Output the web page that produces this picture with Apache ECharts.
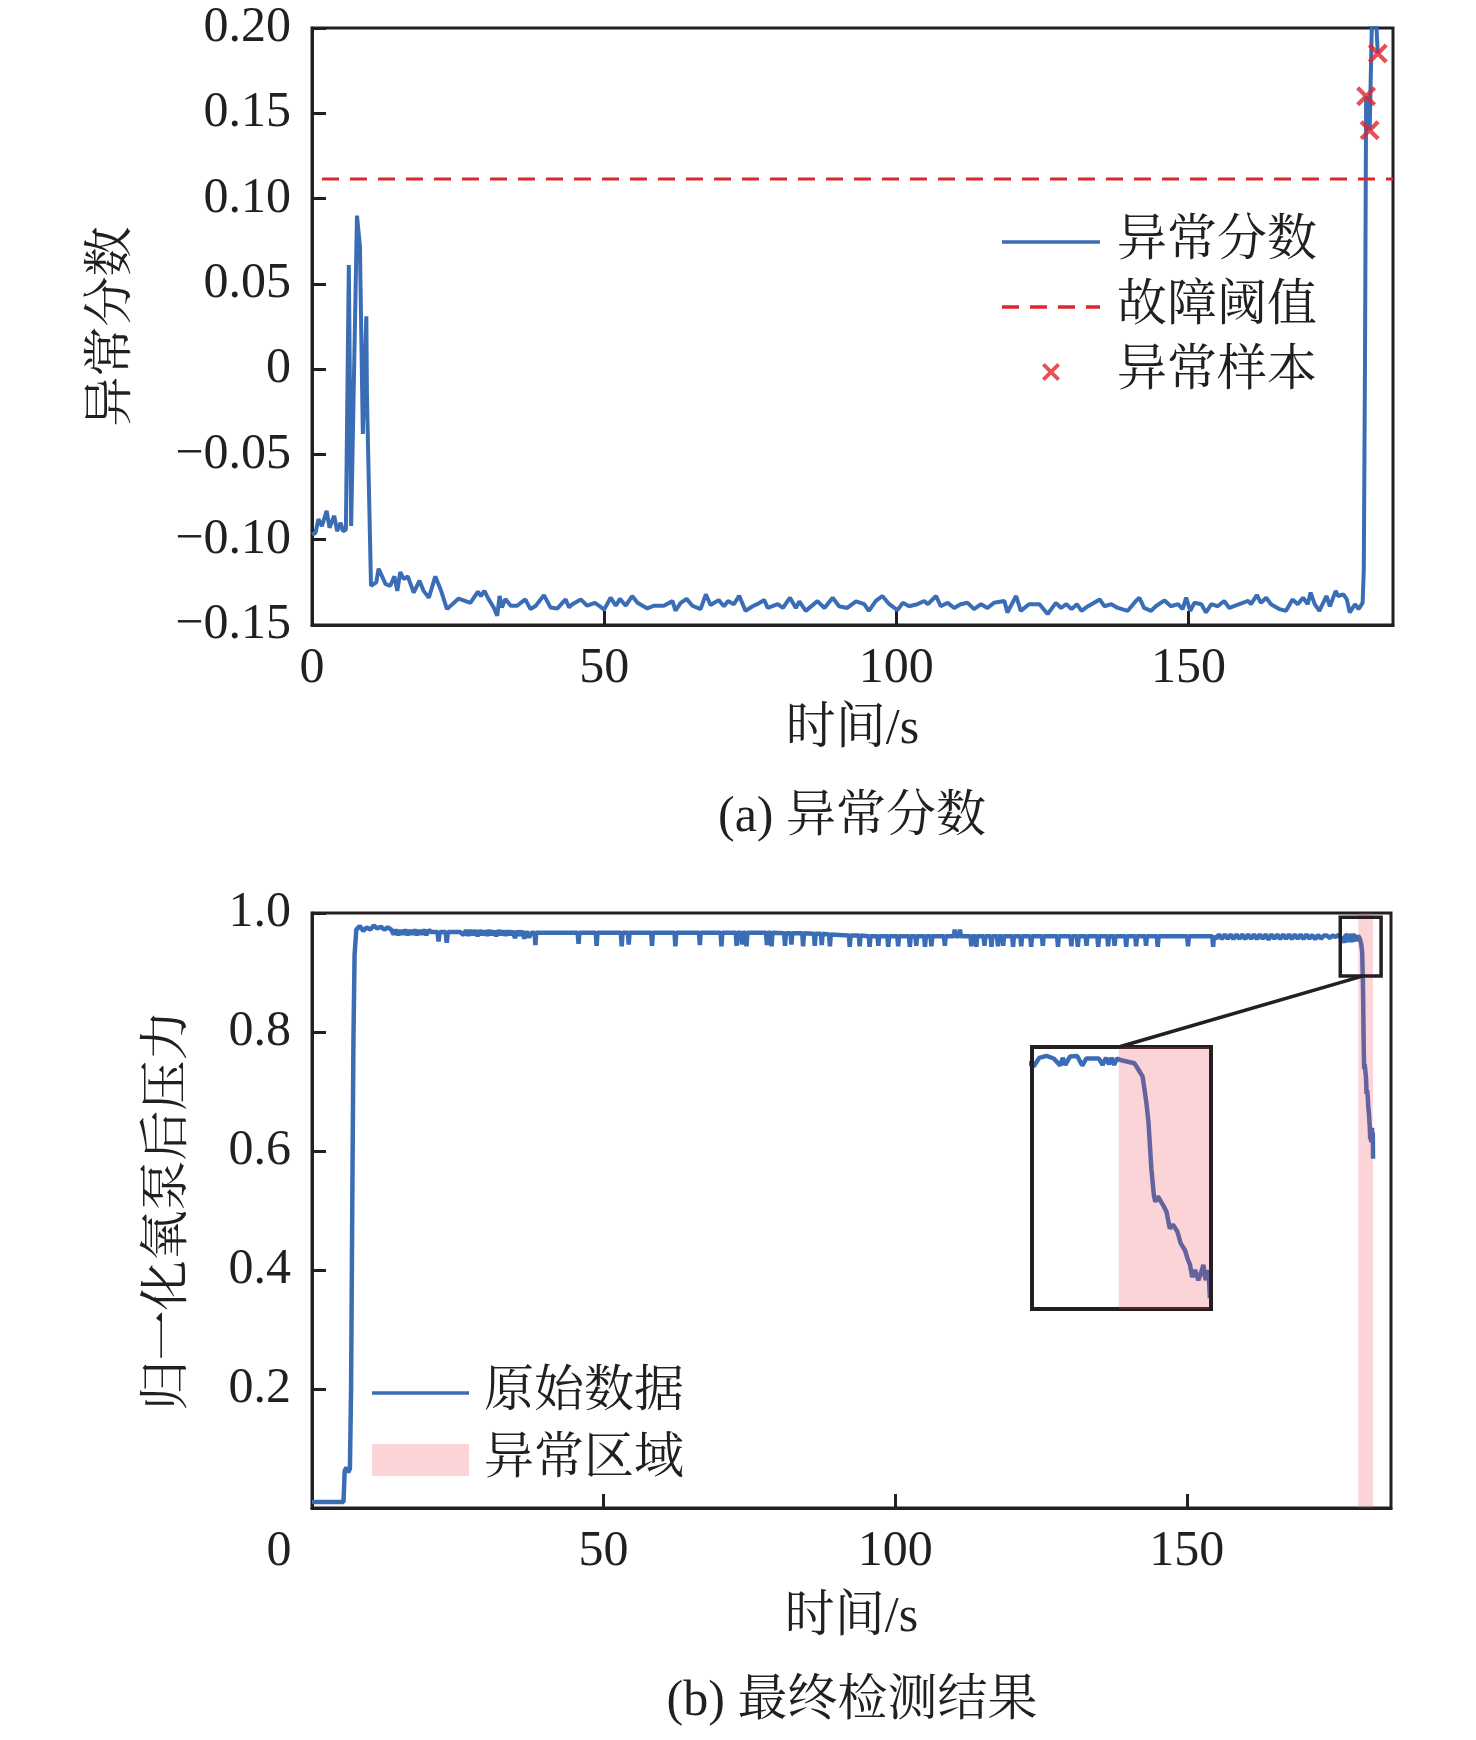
<!DOCTYPE html>
<html>
<head>
<meta charset="utf-8">
<script src="https://cdn.jsdelivr.net/npm/echarts@6.0.0/dist/echarts.min.js"></script>
<style>
  html, body { margin: 0; padding: 0; background: #fff; }
  #main { width: 1476px; height: 1740px; }
</style>
</head>
<body>
<div id="main"></div>
<script>
// (a) 异常分数：时间/s, 分数
var scoreData = [
  [0, -0.097], [0.6, -0.096], [1.1, -0.088], [1.7, -0.092], [2.5, -0.083], [3.0, -0.093], [3.8, -0.086],
  [4.3, -0.095], [4.9, -0.090], [5.3, -0.095], [5.8, -0.094], [6.3, 0.061], [6.7, -0.092], [7.7, 0.090],
  [8.2, 0.072], [8.7, -0.038], [9.3, 0.031], [9.4, -0.015], [10.1, -0.127], [11.0, -0.125], [11.4, -0.117],
  [12.6, -0.126], [13.4, -0.127], [14.1, -0.1215], [14.6, -0.130], [15.1, -0.119], [15.7, -0.123], [16.4, -0.1215],
  [17.4, -0.131], [18.4, -0.124], [19.1, -0.130], [20.0, -0.134], [21.1, -0.1215], [22.0, -0.129], [23.1, -0.1407],
  [24.3, -0.137], [25.1, -0.1345], [26.3, -0.136], [27.1, -0.137], [28.4, -0.1305], [28.9, -0.133], [29.5, -0.130],
  [30.2, -0.1347], [31.1, -0.1397], [31.7, -0.1446], [32.1, -0.133], [32.5, -0.1397], [33.1, -0.1347], [34.0, -0.1387],
  [35.1, -0.1387], [36.5, -0.135], [37.4, -0.1407], [38.3, -0.1387], [39.7, -0.1325], [40.8, -0.1397], [42.0, -0.1403],
  [43.4, -0.135], [44.0, -0.1397], [44.5, -0.138], [46.0, -0.135], [47.1, -0.1387], [48.4, -0.137], [49.1, -0.1387],
  [50.0, -0.141], [51.1, -0.134], [52.0, -0.1387], [52.7, -0.1347], [53.7, -0.1387], [54.8, -0.133], [55.7, -0.137],
  [57.4, -0.1403], [58.5, -0.1387], [60.2, -0.1387], [61.7, -0.136], [62.2, -0.1416], [63.1, -0.137], [64.1, -0.1347],
  [65.1, -0.1387], [66.5, -0.1407], [67.4, -0.132], [68.2, -0.1383], [69.6, -0.1354], [70.5, -0.139], [71.2, -0.136],
  [72.2, -0.1378], [73.1, -0.1329], [74.2, -0.1417], [75.4, -0.139], [76.2, -0.1378], [77.4, -0.1354], [78.0, -0.140],
  [79.7, -0.1378], [80.6, -0.140], [81.8, -0.134], [82.8, -0.140], [83.4, -0.1362], [84.5, -0.1417], [86.5, -0.136],
  [87.7, -0.140], [89.1, -0.134], [90.2, -0.139], [91.6, -0.140], [93.1, -0.1362], [94.5, -0.1378], [95.3, -0.1417],
  [96.5, -0.1359], [97.6, -0.133], [98.8, -0.1378], [100.2, -0.1413], [101.1, -0.137], [102.2, -0.139], [103.6, -0.1378],
  [104.8, -0.1359], [105.4, -0.1378], [106.8, -0.133], [107.6, -0.139], [108.8, -0.137], [109.9, -0.140], [111.0, -0.1378],
  [112.2, -0.137], [113.3, -0.1407], [114.5, -0.1378], [115.6, -0.140], [116.7, -0.137], [118.5, -0.1359], [119.0, -0.1427],
  [120.5, -0.133], [121.3, -0.1417], [122.7, -0.1378], [124.5, -0.1378], [125.9, -0.1436], [127.3, -0.137], [128.2, -0.140],
  [129.1, -0.1378], [130.0, -0.1407], [130.9, -0.1378], [131.7, -0.1417], [132.8, -0.139], [133.4, -0.1378], [134.8, -0.135],
  [135.6, -0.139], [136.8, -0.1378], [137.9, -0.140], [139.6, -0.1417], [141.0, -0.1359], [141.6, -0.134], [142.4, -0.140],
  [143.6, -0.1417], [144.4, -0.139], [145.9, -0.1356], [147.0, -0.139], [148.2, -0.1378], [149.0, -0.1407], [149.6, -0.134],
  [150.3, -0.1417], [151.0, -0.137], [152.2, -0.1378], [153.0, -0.1427], [153.9, -0.1378], [155.0, -0.139], [156.1, -0.1359],
  [157.0, -0.140], [158.7, -0.1378], [160.2, -0.1359], [160.7, -0.1378], [161.7, -0.1324], [162.4, -0.137], [163.3, -0.134],
  [164.1, -0.1378], [165.6, -0.1407], [166.7, -0.1417], [167.8, -0.135], [168.7, -0.1378], [169.6, -0.134], [170.4, -0.1378],
  [170.9, -0.131], [171.6, -0.1378], [172.4, -0.1417], [173.6, -0.133], [174.2, -0.139], [175.2, -0.130], [175.6, -0.133],
  [176.5, -0.132], [177.1, -0.135], [177.6, -0.1427], [178.5, -0.1378], [179.1, -0.1407], [179.8, -0.137], [180.0, -0.118],
  [180.2, 0.0], [180.4, 0.160], [181.0, 0.140], [181.4, 0.205], [181.8, 0.212], [182.1, 0.205], [182.4, 0.185]
];
var anomalySamples = [[180.4, 0.160], [181.0, 0.140], [182.4, 0.185]];
var THRESHOLD = 0.1115;
var scoreTicks = { min: -0.15, max: 0.20, step: 0.05 };

// (b) 最终检测结果：时间/s, 归一化氧泵后压力
var pressureData = [
  [0, 0.010], [5.4, 0.010], [5.6, 0.062], [5.9, 0.068], [6.2, 0.060], [6.5, 0.066], [6.7, 0.20], [6.9, 0.50],
  [7.1, 0.78], [7.3, 0.93], [7.6, 0.972], [8.2, 0.978], [8.8, 0.970], [9.4, 0.976], [10.0, 0.972], [10.6, 0.979],
  [11.2, 0.974], [11.8, 0.977], [12.4, 0.972], [13.0, 0.976], [13.6, 0.972],
  [14.0, 0.964], [14.4, 0.972], [14.8, 0.963], [15.2, 0.971], [15.6, 0.964], [16.0, 0.972], [16.4, 0.963], [16.8, 0.971],
  [17.2, 0.964], [17.6, 0.972], [18.0, 0.963], [18.4, 0.971], [18.8, 0.964], [19.2, 0.972], [19.6, 0.963], [20.0, 0.971],
  [20.5, 0.968], [21.5, 0.968], [21.7, 0.952], [21.9, 0.968], [22.9, 0.968], [23.1, 0.950], [23.3, 0.968], [25.4, 0.968],
  [26.0, 0.963], [26.4, 0.971], [26.8, 0.962], [27.2, 0.971], [27.6, 0.963], [28.0, 0.971], [28.4, 0.961], [28.8, 0.971],
  [29.2, 0.963], [29.6, 0.970], [30.0, 0.962], [30.4, 0.971], [30.8, 0.963], [31.2, 0.970], [31.6, 0.961], [32.0, 0.971],
  [32.4, 0.963], [32.8, 0.970], [33.2, 0.962], [33.6, 0.970], [34.0, 0.963], [34.4, 0.970], [34.8, 0.958], [35.2, 0.970],
  [35.6, 0.962], [36.0, 0.970], [36.4, 0.957], [36.8, 0.969], [37.2, 0.959], [37.6, 0.967],
  [38.15, 0.967], [38.3, 0.946], [38.45, 0.967], [45.55, 0.967], [45.7, 0.948], [45.85, 0.967],
  [48.65, 0.967], [48.8, 0.945], [48.95, 0.967], [52.95, 0.967], [53.1, 0.944], [53.25, 0.967],
  [54.15, 0.967], [54.3, 0.947], [54.45, 0.967], [58.15, 0.967], [58.3, 0.945], [58.45, 0.967],
  [62.15, 0.967], [62.3, 0.944], [62.45, 0.967], [66.35, 0.967], [66.5, 0.946], [66.65, 0.967],
  [70.05, 0.967], [70.2, 0.944], [70.35, 0.967], [72.65, 0.967], [72.8, 0.945], [72.95, 0.967],
  [73.55, 0.967], [73.7, 0.947], [73.85, 0.967], [74.35, 0.967], [74.5, 0.944], [74.65, 0.967],
  [77.85, 0.967], [78.0, 0.946], [78.15, 0.967], [78.65, 0.967], [78.8, 0.944], [78.95, 0.967],
  [80.95, 0.966], [81.1, 0.945], [81.25, 0.966], [82.05, 0.966], [82.2, 0.947], [82.35, 0.966],
  [84.05, 0.966], [84.2, 0.944], [84.35, 0.966], [86.05, 0.965], [86.2, 0.945], [86.35, 0.965],
  [87.25, 0.965], [87.4, 0.946], [87.55, 0.965], [88.65, 0.964], [88.8, 0.944], [88.95, 0.964],
  [92.05, 0.962], [92.2, 0.943], [92.35, 0.962], [93.75, 0.962], [93.9, 0.944], [94.05, 0.962],
  [95.45, 0.961], [95.6, 0.943], [95.75, 0.961], [96.95, 0.961], [97.1, 0.945], [97.25, 0.961],
  [98.65, 0.961], [98.8, 0.943], [98.95, 0.961], [100.35, 0.961], [100.5, 0.944], [100.65, 0.961],
  [102.35, 0.961], [102.5, 0.943], [102.65, 0.961], [103.45, 0.961], [103.6, 0.945], [103.75, 0.961],
  [104.95, 0.961], [105.1, 0.943], [105.25, 0.961], [106.05, 0.961], [106.2, 0.944], [106.35, 0.961],
  [108.35, 0.961], [108.5, 0.945], [108.65, 0.961], [110.05, 0.961], [110.2, 0.972], [110.35, 0.961],
  [110.95, 0.961], [111.1, 0.972], [111.25, 0.961], [112.9, 0.961], [113.05, 0.944], [113.2, 0.961],
  [113.75, 0.961], [113.9, 0.943], [114.05, 0.961], [115.15, 0.961], [115.3, 0.945], [115.45, 0.961],
  [116.35, 0.961], [116.5, 0.943], [116.65, 0.961], [117.45, 0.961], [117.6, 0.944], [117.75, 0.961],
  [118.35, 0.961], [118.5, 0.945], [118.65, 0.961], [120.05, 0.961], [120.2, 0.943], [120.35, 0.961],
  [121.45, 0.961], [121.6, 0.944], [121.75, 0.961], [123.15, 0.961], [123.3, 0.943], [123.45, 0.961],
  [125.15, 0.961], [125.3, 0.945], [125.45, 0.961], [127.75, 0.961], [127.9, 0.943], [128.05, 0.961],
  [130.05, 0.961], [130.2, 0.944], [130.35, 0.961], [131.15, 0.961], [131.3, 0.943], [131.45, 0.961],
  [132.65, 0.961], [132.8, 0.945], [132.95, 0.961], [134.65, 0.961], [134.8, 0.943], [134.95, 0.961],
  [136.35, 0.961], [136.5, 0.944], [136.65, 0.961], [137.45, 0.961], [137.6, 0.945], [137.75, 0.961],
  [139.45, 0.961], [139.6, 0.943], [139.75, 0.961], [141.15, 0.961], [141.3, 0.944], [141.45, 0.961],
  [142.85, 0.961], [143.0, 0.945], [143.15, 0.961], [144.85, 0.961], [145.0, 0.943], [145.15, 0.961],
  [150.05, 0.961], [150.2, 0.944], [150.35, 0.961], [154.35, 0.961], [154.5, 0.943], [154.65, 0.961],
  [155.0, 0.957], [155.5, 0.964], [156.0, 0.956], [156.5, 0.964], [157.0, 0.957], [157.5, 0.964], [158.0, 0.956],
  [158.5, 0.964], [159.0, 0.957], [159.5, 0.964], [160.0, 0.956], [160.5, 0.964], [161.0, 0.957], [161.5, 0.964],
  [162.0, 0.956], [162.5, 0.964], [163.0, 0.957], [163.5, 0.964], [164.0, 0.955], [164.5, 0.964], [165.0, 0.957],
  [165.5, 0.964], [166.0, 0.956], [166.5, 0.964], [167.0, 0.957], [167.5, 0.964], [168.0, 0.956], [168.5, 0.964],
  [169.0, 0.957], [169.5, 0.964], [170.0, 0.956], [170.5, 0.964], [171.0, 0.957], [171.5, 0.963], [172.0, 0.956],
  [172.5, 0.963], [173.0, 0.957], [173.5, 0.962], [174.0, 0.962], [174.5, 0.958], [175.0, 0.962], [175.5, 0.960],
  [176.0, 0.963], [176.5, 0.958], [176.9, 0.955], [177.05, 0.950], [177.2, 0.963], [177.4, 0.966], [177.6, 0.962],
  [177.78, 0.951], [177.85, 0.963], [177.92, 0.952], [178.05, 0.965], [178.25, 0.966], [178.39, 0.951], [178.5, 0.962],
  [178.7, 0.962], [178.85, 0.962], [178.95, 0.952], [179.05, 0.963], [179.13, 0.953], [179.2, 0.963], [179.27, 0.952],
  [179.35, 0.962], [179.44, 0.9597], [179.65, 0.957], [179.83, 0.9545], [179.92, 0.9467], [180.06, 0.9335],
  [180.16, 0.894], [180.22, 0.863], [180.30, 0.790], [180.37, 0.748], [180.41, 0.738], [180.48, 0.746], [180.62, 0.733],
  [180.72, 0.722], [180.81, 0.696], [180.90, 0.702], [181.02, 0.691], [181.11, 0.673], [181.23, 0.662], [181.30, 0.649],
  [181.37, 0.639], [181.43, 0.620], [181.51, 0.631], [181.60, 0.615], [181.67, 0.626], [181.74, 0.639], [181.80, 0.615],
  [181.88, 0.631], [181.92, 0.587]
];
var anomalyRange = [179.4, 181.9];
var zoomBoxX = [176.3, 183.3];
var zoomBoxY = [0.894, 0.993];
var insetX = [177, 181.95];
var insetY = [0.57, 0.98];
var timeTicks = { min: 0, max: 185, step: 50 };

var BLUE = '#3a6db5';
var RED = '#e0262d';
var PINK = 'rgba(236,70,85,0.23)';
var INK = '#231f20';
var FONT = "'Liberation Serif', 'Noto Serif CJK SC', 'Noto Sans CJK SC', serif";
var CROSS = 'path://M3,0L10,7L17,0L20,3L13,10L20,17L17,20L10,13L3,20L0,17L7,10L0,3Z';
// 图例里的实线和虚线
var ICON_SOLID = 'path://M0,0H98V3.5H0Z';
var ICON_DASH = 'path://M0,0H17V3.5H0Z M28,0H45V3.5H28Z M56,0H73V3.5H56Z M84,0H98V3.5H84Z';

function fmtScore(v) {
  if (Math.abs(v) < 1e-9) return '0';
  return v.toFixed(2).replace('-', '\u2212');
}

function axisBase() {
  return {
    axisLine: { show: true, onZero: false, lineStyle: { color: INK, width: 3 } },
    axisTick: { show: true, inside: true, length: 14, lineStyle: { color: INK, width: 3 } },
    splitLine: { show: false },
    axisLabel: { color: INK, fontSize: 50, fontFamily: FONT },
    nameTextStyle: { color: INK, fontSize: 50, fontFamily: FONT }
  };
}

var xa = axisBase();
xa = Object.assign(xa, {
  type: 'value', gridIndex: 0, min: timeTicks.min, max: timeTicks.max, interval: timeTicks.step,
  name: '时间/s', nameLocation: 'middle', nameGap: 80
});
xa.axisLabel = Object.assign({}, xa.axisLabel, { margin: 19, showMaxLabel: false });

var ya = axisBase();
ya = Object.assign(ya, {
  type: 'value', gridIndex: 0, min: scoreTicks.min, max: scoreTicks.max, interval: scoreTicks.step,
  name: '异常分数', nameLocation: 'middle', nameGap: 174
});
ya.axisLabel = Object.assign({}, ya.axisLabel, { margin: 21, formatter: fmtScore });

var xb = axisBase();
xb = Object.assign(xb, {
  type: 'value', gridIndex: 1, min: timeTicks.min, max: timeTicks.max, interval: timeTicks.step,
  name: '时间/s', nameLocation: 'middle', nameGap: 85
});
xb.axisLabel = Object.assign({}, xb.axisLabel, {
  margin: 19, showMaxLabel: false,
  formatter: function (v) { return v === 0 ? '{z|0}' : String(v); },
  rich: { z: { fontSize: 50, fontFamily: FONT, color: INK, padding: [0, 66, 0, 0] } }
});

var yb = axisBase();
yb = Object.assign(yb, {
  type: 'value', gridIndex: 1, min: 0, max: 1, interval: 0.2,
  name: '归一化氧泵后压力', nameLocation: 'middle', nameGap: 118
});
yb.axisLabel = Object.assign({}, yb.axisLabel, {
  margin: 21,
  formatter: function (v) { return v < 1e-9 ? '' : v.toFixed(1); }
});

var hidden = { show: false };
var xi = { type: 'value', gridIndex: 2, min: insetX[0], max: insetX[1], axisLine: hidden, axisTick: hidden, axisLabel: hidden, splitLine: hidden };
var yi = { type: 'value', gridIndex: 2, min: insetY[0], max: insetY[1], axisLine: hidden, axisTick: hidden, axisLabel: hidden, splitLine: hidden };

var chart = echarts.init(document.getElementById('main'));
var option = {
  backgroundColor: '#fff',
  animation: false,
  textStyle: { fontFamily: FONT },
  grid: [
    { left: 312, top: 28, width: 1081, height: 597, show: true, borderColor: INK, borderWidth: 3 },
    { left: 312, top: 913, width: 1079, height: 595, show: true, borderColor: INK, borderWidth: 3 },
    { left: 1032, top: 1047, width: 179, height: 262, show: true, borderColor: INK, borderWidth: 4, z: 5 }
  ],
  xAxis: [xa, xb, xi],
  yAxis: [ya, yb, yi],
  legend: [
    {
      orient: 'vertical', left: 997, top: 207, itemWidth: 98, itemHeight: 18, itemGap: 5,
      itemStyle: { borderWidth: 0 },
      textStyle: { color: INK, fontSize: 50, fontFamily: FONT, lineHeight: 60, padding: [0, 0, 0, 12] },
      data: [
        { name: '异常分数', icon: ICON_SOLID },
        { name: '故障阈值', icon: ICON_DASH },
        { name: '异常样本' }
      ]
    },
    {
      orient: 'vertical', left: 367, top: 1358, itemWidth: 97, itemHeight: 32, itemGap: 7,
      itemStyle: { borderWidth: 0 },
      textStyle: { color: INK, fontSize: 50, fontFamily: FONT, lineHeight: 60, padding: [0, 0, 0, 10] },
      data: [{ name: '原始数据', icon: ICON_SOLID }, { name: '异常区域', icon: 'rect' }]
    }
  ],
  graphic: [
    { id: 'titleA', type: 'text', x: 852, y: 818, style: { text: '(a) 异常分数', font: '50px ' + FONT, fill: INK, align: 'center', verticalAlign: 'middle' } },
    { id: 'titleB', type: 'text', x: 852, y: 1702, style: { text: '(b) 最终检测结果', font: '50px ' + FONT, fill: INK, align: 'center', verticalAlign: 'middle' } }
  ],
  series: [
    {
      name: '异常分数', type: 'line', xAxisIndex: 0, yAxisIndex: 0, data: scoreData,
      symbol: 'none', color: BLUE, lineStyle: { color: BLUE, width: 4 }, z: 2
    },
    {
      name: '故障阈值', type: 'line', xAxisIndex: 0, yAxisIndex: 0,
      data: [[timeTicks.min, THRESHOLD], [timeTicks.max, THRESHOLD]],
      symbol: 'none', color: RED, lineStyle: { color: RED, width: 3, type: [17, 11], dashOffset: 18 }, z: 3
    },
    {
      name: '异常样本', type: 'scatter', xAxisIndex: 0, yAxisIndex: 0, data: anomalySamples,
      symbol: CROSS, symbolSize: 20, color: RED, itemStyle: { color: RED }, z: 4
    },
    {
      name: '原始数据', type: 'line', xAxisIndex: 1, yAxisIndex: 1, data: pressureData,
      symbol: 'none', color: BLUE, lineStyle: { color: BLUE, width: 4.5 }, z: 2
    },
    {
      name: '异常区域', type: 'line', xAxisIndex: 1, yAxisIndex: 1, data: [],
      symbol: 'none', color: PINK, itemStyle: { color: PINK }, lineStyle: { color: PINK }, z: 6,
      markArea: {
        silent: true, z: 6,
        data: [
          [{ xAxis: anomalyRange[0], itemStyle: { color: PINK } }, { xAxis: anomalyRange[1] }],
          [{ xAxis: zoomBoxX[0], yAxis: zoomBoxY[0], itemStyle: { color: 'rgba(0,0,0,0)', borderColor: INK, borderWidth: 3.5 } },
           { xAxis: zoomBoxX[1], yAxis: zoomBoxY[1] }]
        ]
      }
    },
    {
      name: '原始数据', type: 'line', xAxisIndex: 2, yAxisIndex: 2, data: pressureData,
      symbol: 'none', color: BLUE, lineStyle: { color: BLUE, width: 4.5 }, z: 3
    },
    {
      name: '异常区域', type: 'line', xAxisIndex: 2, yAxisIndex: 2, data: [],
      symbol: 'none', color: PINK, itemStyle: { color: PINK }, z: 6,
      markArea: {
        silent: true, z: 6,
        data: [[{ xAxis: anomalyRange[0], itemStyle: { color: PINK } }, { xAxis: anomalyRange[1] }]]
      }
    }
  ]
};
chart.setOption(option);

// 放大框与小图之间的连线
var p1 = chart.convertToPixel({ gridIndex: 2 }, [anomalyRange[0], insetY[1]]);
var p2 = chart.convertToPixel({ gridIndex: 1 }, [180.1, zoomBoxY[0]]);
chart.setOption({
  graphic: [
    { id: 'zoomLink', type: 'line', z: 20, shape: { x1: p1[0], y1: p1[1], x2: p2[0], y2: p2[1] }, style: { stroke: INK, lineWidth: 3.5 } }
  ]
});
</script>
</body>
</html>
